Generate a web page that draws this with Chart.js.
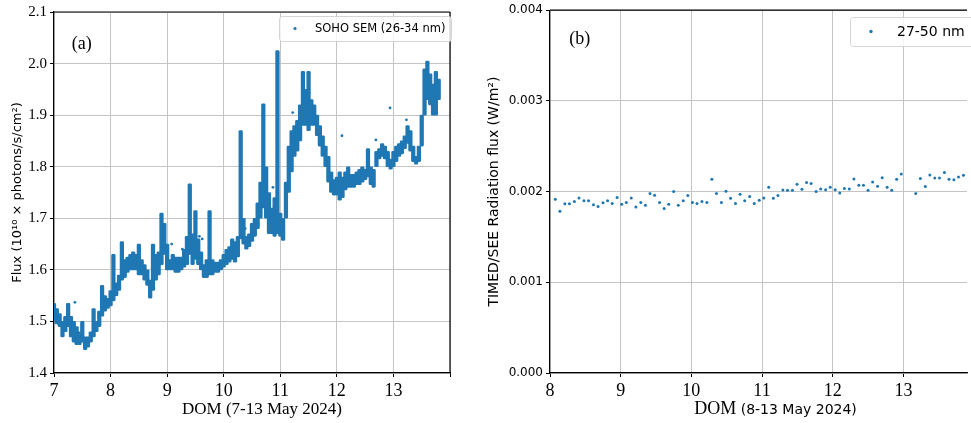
<!DOCTYPE html>
<html>
<head>
<meta charset="utf-8">
<title>EUV flux, 7-13 May 2024</title>
<script src="https://cdn.jsdelivr.net/npm/chart.js@4.4.1/dist/chart.umd.min.js"></script>
<style>
  html, body { margin: 0; padding: 0; background: #fff; overflow: hidden; }
  #panelA { position: absolute; left: 0; top: 0; }
  #panelB { position: absolute; left: 480px; top: 0; }
</style>
</head>
<body>
<canvas id="panelA" width="480" height="423"></canvas>
<canvas id="panelB" width="491" height="423"></canvas>
<script>
// SOHO SEM 26-34 nm flux band, sampled every 0.05 day from 7.00 (x 1e10 photons/s/cm2)
const semStart = 7.0;
const semStep = 0.05;
const semLow = [
  1.500, 1.495, 1.490, 1.470, 1.480, 1.490, 1.470, 1.460, 1.455, 1.455,
  1.460, 1.445, 1.450, 1.460, 1.470, 1.480, 1.490, 1.510, 1.520, 1.525,
  1.530, 1.540, 1.550, 1.560, 1.580, 1.585, 1.595, 1.600, 1.600, 1.600,
  1.590, 1.590, 1.580, 1.570, 1.545, 1.560, 1.580, 1.590, 1.610, 1.630,
  1.600, 1.600, 1.600, 1.595, 1.595, 1.600, 1.605, 1.610, 1.630, 1.610,
  1.620, 1.610, 1.600, 1.585, 1.585, 1.590, 1.590, 1.595, 1.595, 1.600,
  1.605, 1.610, 1.615, 1.620, 1.615, 1.625, 1.660, 1.650, 1.640, 1.645,
  1.655, 1.665, 1.680, 1.700, 1.720, 1.700, 1.670, 1.670, 1.665, 1.670,
  1.665, 1.657, 1.700, 1.750, 1.790, 1.820, 1.830, 1.850, 1.880, 1.880,
  1.870, 1.880, 1.880, 1.860, 1.840, 1.820, 1.800, 1.770, 1.750, 1.745,
  1.745, 1.735, 1.740, 1.755, 1.760, 1.760, 1.760, 1.765, 1.765, 1.770,
  1.775, 1.780, 1.765, 1.760, 1.800, 1.815, 1.820, 1.815, 1.800, 1.795,
  1.800, 1.810, 1.820, 1.825, 1.835, 1.845, 1.830, 1.810, 1.805, 1.810,
  1.840, 1.900, 1.930, 1.920, 1.900, 1.900, 1.930
];
const semHigh = [
  1.535, 1.525, 1.515, 1.500, 1.510, 1.535, 1.510, 1.500, 1.490, 1.480,
  1.500, 1.470, 1.470, 1.480, 1.525, 1.500, 1.520, 1.570, 1.550, 1.545,
  1.560, 1.630, 1.575, 1.590, 1.655, 1.620, 1.625, 1.630, 1.635, 1.630,
  1.650, 1.620, 1.610, 1.600, 1.580, 1.650, 1.630, 1.635, 1.710, 1.690,
  1.650, 1.620, 1.630, 1.625, 1.625, 1.625, 1.640, 1.665, 1.767, 1.670,
  1.715, 1.660, 1.635, 1.610, 1.620, 1.715, 1.620, 1.615, 1.615, 1.620,
  1.630, 1.640, 1.645, 1.660, 1.655, 1.665, 1.870, 1.700, 1.665, 1.670,
  1.690, 1.700, 1.730, 1.770, 1.922, 1.800, 1.750, 1.720, 1.740, 2.025,
  1.710, 1.700, 1.770, 1.840, 1.870, 1.880, 1.890, 1.920, 1.985, 1.950,
  1.985, 1.930, 1.920, 1.900, 1.880, 1.860, 1.840, 1.820, 1.790, 1.775,
  1.780, 1.790, 1.780, 1.790, 1.800, 1.785, 1.785, 1.790, 1.795, 1.800,
  1.795, 1.835, 1.800, 1.795, 1.830, 1.835, 1.845, 1.840, 1.830, 1.815,
  1.830, 1.840, 1.845, 1.850, 1.860, 1.880, 1.870, 1.840, 1.820, 1.840,
  1.900, 1.990, 2.005, 1.980, 1.960, 1.985, 1.970
];
// isolated SEM readings away from the main band
const semStrayT = [7.37, 9.08, 9.27, 9.57, 9.62, 10.38, 10.87, 11.22, 12.09, 12.69, 12.94, 13.23];
const semStrayV = [1.537, 1.650, 1.640, 1.665, 1.660, 1.680, 1.760, 1.905, 1.860, 1.852, 1.914, 1.891];

// TIMED/SEE 27-50 nm irradiance (W/m2)
const seeT = [
  8.075, 8.14, 8.21, 8.275, 8.345, 8.41, 8.48, 8.545, 8.615, 8.68,
  8.75, 8.815, 8.88, 8.95, 9.015, 9.08, 9.15, 9.215, 9.285, 9.35,
  9.415, 9.48, 9.55, 9.615, 9.68, 9.75, 9.815, 9.885, 9.95, 10.015,
  10.08, 10.15, 10.22, 10.29, 10.355, 10.425, 10.49, 10.555, 10.625, 10.69,
  10.755, 10.825, 10.89, 10.96, 11.025, 11.095, 11.16, 11.225, 11.295, 11.36,
  11.43, 11.495, 11.565, 11.63, 11.695, 11.765, 11.83, 11.9, 11.965, 12.035,
  12.1, 12.165, 12.235, 12.3, 12.37, 12.435, 12.5, 12.565, 12.635, 12.7,
  12.77, 12.835, 12.905, 12.97, 13.175, 13.24, 13.31, 13.375, 13.445, 13.51,
  13.58, 13.645, 13.715, 13.78, 13.85
];
const seeFlux = [
  0.001916, 0.001784, 0.001865, 0.001865, 0.001890, 0.001930, 0.001900, 0.001900, 0.001854, 0.001835,
  0.001876, 0.001900, 0.001870, 0.001934, 0.001860, 0.001880, 0.001930, 0.001830, 0.001880, 0.001850,
  0.001980, 0.001960, 0.001880, 0.001813, 0.001860, 0.002000, 0.001850, 0.001900, 0.001956, 0.001880,
  0.001870, 0.001890, 0.001880, 0.002135, 0.001980, 0.001880, 0.002004, 0.001927, 0.001870, 0.001970,
  0.001900, 0.001945, 0.001870, 0.001905, 0.001930, 0.002048, 0.001927, 0.001956, 0.002018, 0.002015,
  0.002015, 0.002080, 0.002026, 0.002100, 0.002088, 0.002000, 0.002030, 0.002020, 0.002048, 0.002020,
  0.001985, 0.002033, 0.002030, 0.002140, 0.002070, 0.002070, 0.002015, 0.002106, 0.002060, 0.002154,
  0.002048, 0.002015, 0.002135, 0.002194, 0.001980, 0.002144, 0.002056, 0.002183, 0.002150, 0.002150,
  0.002210, 0.002135, 0.002130, 0.002160, 0.002180
];

const BLUE = '#1f77b4';
const GRID = '#c4c4c4';
const SERIF = 'Liberation Serif';
const SANS = 'DejaVu Sans';

// black spines on top (and right, when asked)
const framePlugin = {
  id: 'frame',
  afterDraw(chart, args, opts) {
    const { ctx, chartArea: a } = chart;
    ctx.save();
    ctx.strokeStyle = '#000';
    ctx.lineWidth = 1.2;
    ctx.beginPath();
    ctx.moveTo(a.left, a.top);
    ctx.lineTo(a.right, a.top);
    if (opts.right) {
      ctx.moveTo(a.right, a.top);
      ctx.lineTo(a.right, a.bottom);
    }
    ctx.stroke();
    ctx.restore();
  }
};

// matplotlib-like legend box: frame, one dot, label
const boxLegend = {
  id: 'boxLegend',
  afterDraw(chart, args, o) {
    const ctx = chart.ctx;
    const ds = chart.data.datasets[0];
    ctx.save();
    ctx.beginPath();
    ctx.roundRect(o.x + 0.5, o.y + 0.5, o.w, o.h, 3);
    ctx.fillStyle = 'rgba(255,255,255,0.8)';
    ctx.fill();
    ctx.strokeStyle = '#d4d4d4';
    ctx.lineWidth = 1;
    ctx.stroke();
    ctx.beginPath();
    ctx.arc(o.dotX, o.y + o.h / 2, o.dotR, 0, Math.PI * 2);
    ctx.fillStyle = BLUE;
    ctx.fill();
    ctx.fillStyle = '#000';
    ctx.font = o.font;
    ctx.textBaseline = 'middle';
    ctx.fillText(ds.label, o.textX, o.y + o.h / 2 + 0.5);
    ctx.restore();
  }
};

// panel tag such as (a), placed in data coordinates
const panelTag = {
  id: 'panelTag',
  afterDraw(chart, args, o) {
    const ctx = chart.ctx;
    const px = chart.scales.x.getPixelForValue(o.x);
    const py = chart.scales.y.getPixelForValue(o.y);
    ctx.save();
    ctx.font = '18px "' + SERIF + '"';
    ctx.fillStyle = '#000';
    ctx.textAlign = 'center';
    ctx.textBaseline = 'middle';
    ctx.fillText(o.text, px, py);
    ctx.restore();
  }
};

// x-axis caption, possibly in two fonts ("DOM" serif, date span sans)
const mixedXTitle = {
  id: 'mixedXTitle',
  afterDraw(chart, args, o) {
    if (!o.runs) return;
    const ctx = chart.ctx;
    const a = chart.chartArea;
    ctx.save();
    ctx.fillStyle = '#000';
    ctx.textBaseline = 'alphabetic';
    let total = 0;
    const widths = o.runs.map(r => {
      ctx.font = r.font;
      const w = ctx.measureText(r.text).width;
      total += w;
      return w;
    });
    let x = (a.left + a.right) / 2 + o.shift - total / 2;
    o.runs.forEach((r, i) => {
      ctx.font = r.font;
      ctx.fillText(r.text, x, o.baseline);
      x += widths[i];
    });
    ctx.restore();
  }
};

function gridOpts() {
  return { color: GRID, lineWidth: 1, offset: false, tickLength: 4, tickColor: '#000' };
}

const semBand = semLow.map((lo, i) => ({
  x: +(semStart + i * semStep).toFixed(2),
  y: [lo, semHigh[i]]
}));

new Chart(document.getElementById('panelA'), {
  type: 'bar',
  data: {
    datasets: [{
      label: 'SOHO SEM (26-34 nm)',
      data: semBand,
      backgroundColor: BLUE,
      borderWidth: 0,
      borderRadius: 1.3,
      borderSkipped: false,
      barThickness: 3.6
    }, {
      type: 'scatter',
      label: 'SOHO SEM (26-34 nm)',
      data: semStrayT.map((t, i) => ({ x: t, y: semStrayV[i] })),
      backgroundColor: BLUE,
      borderColor: BLUE,
      pointRadius: 1.4,
      pointBorderWidth: 0
    }]
  },
  options: {
    responsive: false,
    animation: false,
    layout: { padding: { top: 10, right: 30, left: 0, bottom: 0 } },
    plugins: {
      legend: { display: false },
      tooltip: { enabled: false },
      frame: { right: true },
      boxLegend: { x: 279, y: 16, w: 172, h: 25, dotX: 295, dotR: 1.6, textX: 315, font: '11.5px "' + SANS + '"' },
      panelTag: { text: '(a)', x: 7.49, y: 2.038 },
      mixedXTitle: {
        shift: 10, baseline: 414,
        runs: [{ text: 'DOM (7-13 May 2024)', font: '17px "' + SERIF + '"' }]
      }
    },
    scales: {
      x: {
        type: 'linear', min: 7, max: 14, offset: false, z: 1,
        ticks: {
          stepSize: 1, color: '#000', padding: 3, maxRotation: 0,
          font: { family: SERIF, size: 18 },
          callback: v => (v === 14 ? '' : v)
        },
        grid: gridOpts(),
        border: { display: true, color: '#000', width: 1.2 },
        title: { display: false },
        afterFit: s => { s.height = 50; }
      },
      y: {
        type: 'linear', min: 1.4, max: 2.1, z: 1,
        ticks: {
          stepSize: 0.1, color: '#000', padding: 3,
          font: { family: SERIF, size: 15 },
          callback: v => v.toFixed(1)
        },
        grid: gridOpts(),
        border: { display: true, color: '#000', width: 1.2 },
        title: {
          display: true, text: 'Flux (10¹⁰ × photons/s/cm²)', color: '#000',
          font: { family: SANS, size: 13 }, padding: { top: 10, bottom: 0 }
        },
        afterFit: s => { s.width = 54; }
      }
    }
  },
  plugins: [framePlugin, boxLegend, panelTag, mixedXTitle]
});

new Chart(document.getElementById('panelB'), {
  type: 'scatter',
  data: {
    datasets: [{
      label: '27-50 nm',
      data: seeT.map((t, i) => ({ x: t, y: seeFlux[i] })),
      backgroundColor: BLUE,
      borderColor: BLUE,
      pointRadius: 1.5,
      pointBorderWidth: 0
    }]
  },
  options: {
    responsive: false,
    animation: false,
    layout: { padding: { top: 9, right: 0, left: 0, bottom: 0 } },
    plugins: {
      legend: { display: false },
      tooltip: { enabled: false },
      frame: { right: false },
      boxLegend: { x: 370, y: 17, w: 160, h: 29, dotX: 391, dotR: 1.7, textX: 417, font: '14px "' + SANS + '"' },
      panelTag: { text: '(b)', x: 8.42, y: 0.003685 },
      mixedXTitle: {
        shift: 17, baseline: 414,
        runs: [
          { text: 'DOM ', font: '18px "' + SERIF + '"' },
          { text: '(8-13 May 2024)', font: '14px "' + SANS + '"' }
        ]
      }
    },
    scales: {
      x: {
        type: 'linear', min: 8, max: 13.9, offset: false, z: 1,
        afterBuildTicks: s => { s.ticks = s.ticks.filter(t => Number.isInteger(t.value)); },
        ticks: {
          stepSize: 1, color: '#000', padding: 3, maxRotation: 0,
          font: { family: SERIF, size: 18 }
        },
        grid: gridOpts(),
        border: { display: true, color: '#000', width: 1.2 },
        title: { display: false },
        afterFit: s => { s.height = 50; }
      },
      y: {
        type: 'linear', min: 0, max: 0.004, z: 1,
        ticks: {
          stepSize: 0.001, color: '#000', padding: 3,
          font: { family: SANS, size: 12 },
          callback: v => v.toFixed(3)
        },
        grid: gridOpts(),
        border: { display: true, color: '#000', width: 1.2 },
        title: {
          display: true, text: 'TIMED/SEE Radiation flux (W/m²)', color: '#000',
          font: { family: SANS, size: 14 }, padding: { top: 6, bottom: 0 }
        },
        afterFit: s => { s.width = 70; }
      }
    }
  },
  plugins: [framePlugin, boxLegend, panelTag, mixedXTitle]
});
</script>
</body>
</html>
